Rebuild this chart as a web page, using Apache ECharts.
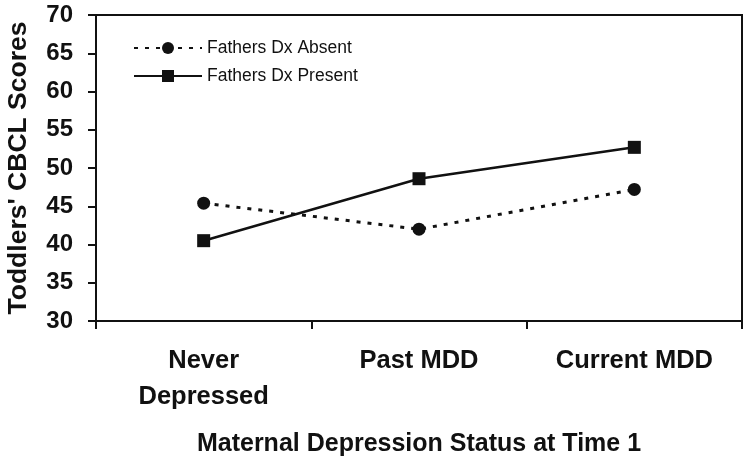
<!DOCTYPE html>
<html>
<head>
<meta charset="utf-8">
<script src="https://cdn.jsdelivr.net/npm/echarts@6/dist/echarts.min.js"></script>
<style>html,body{margin:0;padding:0;background:#fff}#c{width:750px;height:465px}</style>
</head>
<body>
<div id="c"></div>
<script>
var categories = ['Never\nDepressed', 'Past MDD', 'Current MDD'];
var absentValues = [45.4, 42.0, 47.2];
var presentValues = [40.5, 48.6, 52.7];
var seriesNames = ['Fathers Dx Absent', 'Fathers Dx Present'];
var yTicks = [30, 35, 40, 45, 50, 55, 60, 65, 70];

var FONT = 'Liberation Sans, Arial, sans-serif';
var INK = '#111';
var chart = echarts.init(document.getElementById('c'), null, {renderer: 'canvas'});
chart.setOption({
  backgroundColor: '#fff',
  animation: false,
  grid: {left: 96, right: 8, top: 15, bottom: 144, show: true, borderColor: INK, borderWidth: 2, containLabel: false, outerBoundsMode: 'none'},
  legend: {
    orient: 'vertical', left: 128, top: 33, itemWidth: 68, itemHeight: 15, itemGap: 8,
    textStyle: {fontFamily: FONT, fontSize: 17.5, color: INK, lineHeight: 20},
    data: seriesNames
  },
  xAxis: {
    type: 'category', data: categories, boundaryGap: true,
    axisLine: {lineStyle: {color: INK, width: 2}},
    axisTick: {show: true, length: 8, lineStyle: {color: INK, width: 2}},
    axisLabel: {margin: 22, fontFamily: FONT, fontWeight: 'bold', fontSize: 25.5, color: INK, lineHeight: 36, interval: 0},
    name: 'Maternal Depression Status at Time 1', nameLocation: 'middle', nameGap: 111,
    nameTextStyle: {fontFamily: FONT, fontWeight: 'bold', fontSize: 25, color: INK}
  },
  yAxis: {
    type: 'value', min: yTicks[0], max: yTicks[yTicks.length - 1], interval: 5,
    axisLine: {show: true, lineStyle: {color: INK, width: 2}},
    axisTick: {show: true, length: 8, lineStyle: {color: INK, width: 2}},
    splitLine: {show: false},
    axisLabel: {margin: 23, fontFamily: FONT, fontWeight: 'bold', fontSize: 24, color: INK},
    name: "Toddlers' CBCL Scores", nameLocation: 'middle', nameGap: 64, nameRotate: 90,
    nameTextStyle: {fontFamily: FONT, fontWeight: 'bold', fontSize: 26.5, color: INK}
  },
  series: [
    {
      name: seriesNames[0], type: 'line', data: absentValues,
      symbol: 'circle', symbolSize: 13,
      lineStyle: {color: INK, width: 3, type: [4, 7]},
      itemStyle: {color: INK}
    },
    {
      name: seriesNames[1], type: 'line', data: presentValues,
      symbol: 'rect', symbolSize: 13,
      lineStyle: {color: INK, width: 2.5, type: 'solid'},
      itemStyle: {color: INK}
    }
  ]
});
</script>
</body>
</html>
